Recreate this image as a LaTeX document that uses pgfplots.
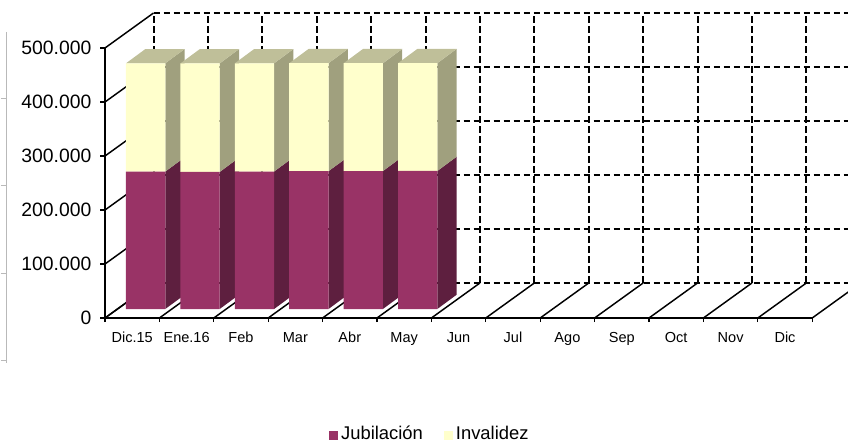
\documentclass[border=0pt]{standalone}
\usepackage{pgfplots}
\pgfplotsset{compat=1.18}
\usepackage{pgfplotstable}
\usepackage{fontspec}
\setmainfont{Liberation Sans}
\definecolor{jub}{HTML}{993366}
\definecolor{jubside}{HTML}{5E1F3F}
\definecolor{inv}{HTML}{FFFFCC}
\definecolor{invside}{HTML}{A0A07E}
\definecolor{invtop}{HTML}{BFBF99}
% values in thousands
\pgfplotstableread{
x jub inv
0 254.5 200.5
1 253.8 201.0
2 254.6 200.4
3 255.2 199.9
4 255.4 199.7
5 255.6 199.6
}\datatable
\tikzset{
  dgrid/.style={black, line width=1.5pt, dash pattern=on 5pt off 2.5pt},
  sgrid/.style={black, line width=1.1pt},
}
\pgfplotsset{
  frame3d/.style={
    at={(0,0)}, anchor=south west,
    scale only axis, width=530.4pt, height=202.5pt,
    xmin=-0.5, xmax=12.5, ymin=0, ymax=500,
    clip=false,
  }
}
\begin{document}
\begin{tikzpicture}
\useasboundingbox (-78.75pt,-93pt) rectangle (557.25pt,238.5pt);
\clip (-78.75pt,-93pt) rectangle (557.25pt,238.5pt);
\draw[gray!55, line width=0.5pt] (-74.25pt,214.5pt) -- (-74.25pt,-33.75pt);
\foreach \yy in {165pt,99.75pt,33.75pt,-31.5pt}{\draw[gray!55, line width=0.5pt] (-78pt,\yy) -- (-74.25pt,\yy);}
% walls, floor and bar side/top faces
\begin{axis}[frame3d, axis lines=none]
\pgfplotsinvokeforeach{0,100,200,300,400,500}{
  \draw[dgrid] ([shift={(36.4pt,26.25pt)}]axis cs:-0.5,#1) -- ([shift={(36.4pt,26.25pt)}]axis cs:12.5,#1);
  \draw[sgrid] (axis cs:-0.5,#1) -- ([shift={(36.4pt,26.25pt)}]axis cs:-0.5,#1);
}
\pgfplotsinvokeforeach{-0.5,0.5,...,12.5}{
  \draw[dgrid] ([shift={(36.4pt,26.25pt)}]axis cs:#1,0) -- ([shift={(36.4pt,26.25pt)}]axis cs:#1,500);
  \draw[sgrid] (axis cs:#1,0) -- ([shift={(36.4pt,26.25pt)}]axis cs:#1,0);
}
\pgfplotsinvokeforeach{0,...,5}{
  \pgfplotstablegetelem{#1}{jub}\of\datatable
  \let\J=\pgfplotsretval
  \pgfplotstablegetelem{#1}{inv}\of\datatable
  \let\I=\pgfplotsretval
  \pgfmathsetmacro\T{\J+\I}
  \pgfmathsetmacro\XR{#1+0.361}
  \edef\temp{%
    \noexpand\fill[jubside] ([shift={(10.1pt,6.75pt)}]axis cs:\XR,0) -- ([shift={(24.6pt,17.45pt)}]axis cs:\XR,0) -- ([shift={(24.6pt,17.45pt)}]axis cs:\XR,\J) -- ([shift={(10.1pt,6.75pt)}]axis cs:\XR,\J) -- cycle;
    \noexpand\fill[invside] ([shift={(10.1pt,6.75pt)}]axis cs:\XR,\J) -- ([shift={(24.6pt,17.45pt)}]axis cs:\XR,\J) -- ([shift={(24.6pt,17.45pt)}]axis cs:\XR,\T) -- ([shift={(10.1pt,6.75pt)}]axis cs:\XR,\T) -- cycle;
  }\temp
}
\pgfplotsinvokeforeach{0,...,5}{
  \pgfplotstablegetelem{#1}{jub}\of\datatable
  \let\J=\pgfplotsretval
  \pgfplotstablegetelem{#1}{inv}\of\datatable
  \let\I=\pgfplotsretval
  \pgfmathsetmacro\T{\J+\I}
  \pgfmathsetmacro\XL{#1-0.361}
  \pgfmathsetmacro\XR{#1+0.361}
  \edef\temp{%
    \noexpand\fill[invtop] ([shift={(10.1pt,6.75pt)}]axis cs:\XL,\T) -- ([shift={(10.1pt,6.75pt)}]axis cs:\XR,\T) -- ([shift={(24.6pt,17.45pt)}]axis cs:\XR,\T) -- ([shift={(24.6pt,17.45pt)}]axis cs:\XL,\T) -- cycle;
  }\temp
}
\end{axis}
% front faces, axes, ticks, legend
\begin{axis}[
  frame3d,
  axis x line*=bottom, axis y line*=left,
  axis line style={line width=1.1pt, black},
  tick align=outside,
  ytick={0,100,...,500},
  yticklabels={0,100.000,200.000,300.000,400.000,500.000},
  xtick={0,...,12},
  xticklabels={Dic.15,Ene.16,Feb,Mar,Abr,May,Jun,Jul,Ago,Sep,Oct,Nov,Dic},
  major x tick style={draw=none},
  minor xtick={-0.5,0.5,...,12.5},
  minor tick length=3pt,
  major tick length=3.75pt,
  tick style={black, line width=1pt},
  yticklabel style={font=\fontsize{14.5}{16}\selectfont, xshift=-3pt},
  xticklabel style={font=\fontsize{10.9}{12}\selectfont, text height=7.9pt, text depth=0pt, yshift=-3pt},
  ybar stacked, bar width=29.5pt,
  legend columns=2,
  legend style={draw=none, fill=none, at={(0.46,-0.43)}, anchor=center,
    font=\fontsize{13.8}{15}\selectfont,
    /tikz/every even column/.append style={column sep=14pt}},
  legend image code/.code={\fill[#1] (-2.5pt,-11pt) rectangle (4.25pt,-4.25pt);},
]
\addplot[fill=jub, draw=none, xshift=10.1pt, yshift=6.75pt] table[x=x, y=jub]{\datatable};
\addplot[fill=inv, draw=none, xshift=10.1pt, yshift=6.75pt] table[x=x, y=inv]{\datatable};
\legend{Jubilación, Invalidez}
\end{axis}
\end{tikzpicture}
\end{document}
